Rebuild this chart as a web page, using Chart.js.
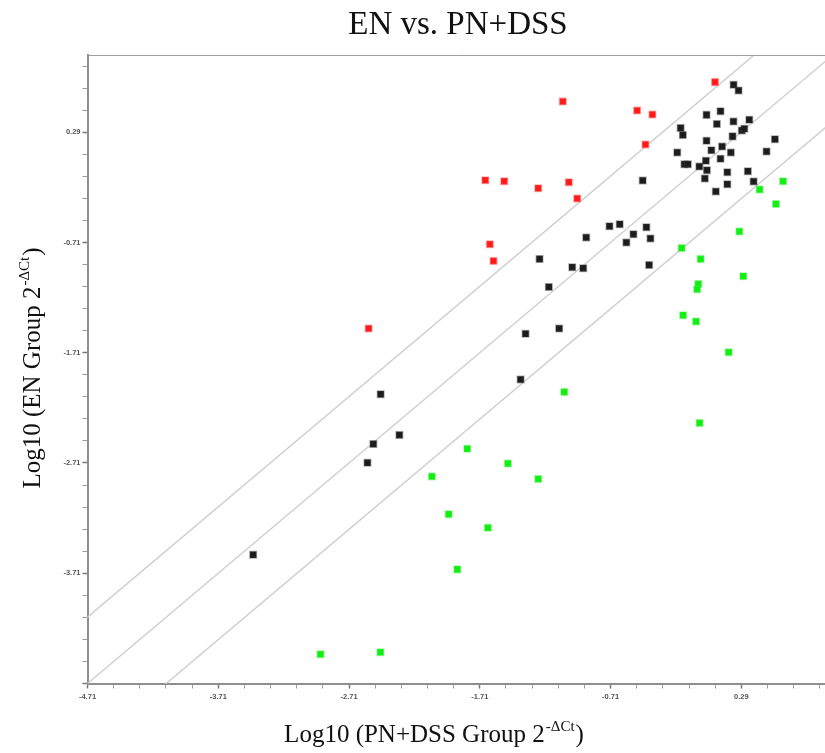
<!DOCTYPE html>
<html>
<head>
<meta charset="utf-8">
<script src="https://cdn.jsdelivr.net/npm/chart.js@4/dist/chart.umd.min.js"></script>
<style>
    html, body { margin: 0; padding: 0; background: #fff; overflow: hidden; }
    #wrap { width: 825px; height: 753px; }
    canvas { display: block; }
</style>
</head>
<body>
<div id="wrap"><canvas id="myChart" width="825" height="753"></canvas></div>
<script>
// axis ranges and ticks (log10 of 2^-dCt)
const xMin = -4.71;
const xMax = 0.93;
const yMin = -4.71;
const yMax = 0.99;
const tickStep = 0.2;
const xTickLabels = ["-4.71", "-3.71", "-2.71", "-1.71", "-0.71", "0.29"];
const yTickLabels = ["-3.71", "-2.71", "-1.71", "-0.71", "0.29"];

// fold-change boundaries: log10(4) above / below the diagonal
const foldOffsets = [0.602, 0, -0.602];

// up-regulated in EN (red)
const upX = [-1.075, -0.507, -0.39, -0.443, -1.668, -1.523, -1.263, -1.029, -0.965, -1.633, -1.605, 0.089, -2.56];
const upY = [0.569, 0.487, 0.451, 0.178, -0.146, -0.155, -0.218, -0.164, -0.312, -0.726, -0.878, 0.744, -1.491];

// unchanged (black)
const sameX = [
    -3.443, -2.468, -2.325, -2.524, -2.569, -1.398, -1.36, -1.103, -1.182, -1.253, -1.003, -0.919,
    -0.896, -0.718, -0.64, -0.535, -0.589, -0.436, -0.405, -0.415, -0.464,
    0.231, 0.269, 0.024, 0.131, 0.103, 0.23, 0.351, 0.294, 0.313, 0.223, -0.174, -0.157, 0.547,
    0.024, 0.143, 0.061, 0.21, 0.483, -0.2, 0.131, 0.019, -0.145, -0.119, -0.031, 0.027, 0.183,
    0.34, 0.011, 0.183, 0.384, 0.095,
];
const sameY = [
    -3.542, -2.087, -2.457, -2.539, -2.707, -1.954, -1.537, -1.491, -1.114, -0.86, -0.935, -0.944,
    -0.666, -0.563, -0.545, -0.636, -0.711, -0.572, -0.675, -0.914, -0.148,
    0.721, 0.669, 0.447, 0.479, 0.365, 0.387, 0.402, 0.306, 0.322, 0.252, 0.328, 0.265, 0.226,
    0.213, 0.161, 0.127, 0.106, 0.115, 0.106, 0.05, 0.031, 0.0, 0.0, -0.021, -0.055, -0.073,
    -0.064, -0.13, -0.182, -0.157, -0.248,
];

// down-regulated in EN (green)
const downX = [
    0.609, 0.43, 0.555, 0.275, -0.166, -0.021, 0.305, -0.039, -0.048, -0.155, -0.056, 0.193,
    -0.029, -1.064, -1.806, -2.076, -1.948, -1.882, -2.928, -2.47, -1.495, -1.263, -1.648,
];
const downY = [
    -0.155, -0.23, -0.361, -0.611, -0.76, -0.86, -1.017, -1.087, -1.135, -1.371, -1.428, -1.706,
    -2.348, -2.067, -2.58, -2.832, -3.174, -3.675, -4.444, -4.426, -2.714, -2.856, -3.297,
];

const serif = "'Liberation Serif', 'Times New Roman', serif";

function toPoints(xs, ys) {
    return xs.map((x, i) => ({ x: x, y: ys[i] }));
}

function isMajor(v) {
    let d = v - xMin;
    return Math.abs(d - Math.round(d)) < 1e-6;
}

function buildTicks(scale) {
    let ticks = [];
    for (let k = 0; ; k++) {
        let v = Math.round((xMin + k * tickStep) * 100) / 100;
        if (v > scale.max + 1e-9) {
            break;
        }
        ticks.push({ value: v });
    }
    scale.ticks = ticks;
}

function labelFor(list) {
    return (value) => {
        let found = list.find((l) => Math.abs(parseFloat(l) - value) < 1e-6);
        return found || "";
    };
}

// draws "main" + superscript + "tail" centred on (0, 0) of the current transform
function drawSupText(ctx, main, sup, tail) {
    let big = "25px " + serif;
    let small = "15px " + serif;
    ctx.font = big;
    let w1 = ctx.measureText(main).width;
    let w3 = ctx.measureText(tail).width;
    ctx.font = small;
    let w2 = ctx.measureText(sup).width;
    let x = -(w1 + w2 + w3) / 2;
    ctx.textAlign = "left";
    ctx.textBaseline = "alphabetic";
    ctx.font = big;
    ctx.fillText(main, x, 0);
    ctx.font = small;
    ctx.fillText(sup, x + w1 + 1, -11);
    ctx.font = big;
    ctx.fillText(tail, x + w1 + w2 + 2, 0);
}

const textPlugin = {
    id: "textPlugin",
    afterDraw(chart) {
        let ctx = chart.ctx;
        let area = chart.chartArea;
        ctx.save();

        // top frame line
        ctx.strokeStyle = "#a0a0a0";
        ctx.lineWidth = 1;
        ctx.beginPath();
        ctx.moveTo(area.left, area.top + 0.5);
        ctx.lineTo(area.right, area.top + 0.5);
        ctx.stroke();

        ctx.fillStyle = "#111";
        ctx.font = "33px " + serif;
        ctx.textAlign = "center";
        ctx.textBaseline = "alphabetic";
        ctx.fillText("EN vs. PN+DSS", 458, 34);

        ctx.save();
        ctx.translate(433, 742);
        drawSupText(ctx, "Log10 (PN+DSS Group 2", "-ΔCt", ")");
        ctx.restore();

        ctx.save();
        ctx.translate(40, 369);
        ctx.rotate(-Math.PI / 2);
        drawSupText(ctx, "Log10 (EN Group 2", "-ΔCt", ")");
        ctx.restore();

        ctx.restore();
    },
};

function pointSet(label, xs, ys, fill, edge) {
    return {
        label: label,
        data: toPoints(xs, ys),
        pointStyle: "rect",
        pointRadius: 4.6,
        pointHoverRadius: 4.6,
        backgroundColor: fill,
        borderColor: edge,
        borderWidth: 1.5,
        order: 0,
    };
}

let lineSets = foldOffsets.map((off) => ({
    label: "fold " + off,
    data: [
        { x: xMin - 1, y: xMin - 1 + off },
        { x: xMax + 1, y: xMax + 1 + off },
    ],
    showLine: true,
    pointRadius: 0,
    borderColor: "#d0d0d0",
    borderWidth: 1.5,
    order: 1,
}));

let tickFont = { family: "'Liberation Sans', Arial, sans-serif", size: 7.5, weight: "bold" };

let gridOpts = {
    drawOnChartArea: false,
    drawTicks: true,
    tickLength: 5,
    tickColor: (c) => (c.tick && isMajor(c.tick.value) ? "#777" : "#9a9a9a"),
    tickWidth: (c) => (c.tick && isMajor(c.tick.value) ? 1.5 : 1),
};

const ctx = document.getElementById("myChart");
const chart = new Chart(ctx, {
    type: "scatter",
    data: {
        datasets: [
            pointSet("up", upX, upY, "#ff1a1a", "rgba(255,90,90,0.45)"),
            pointSet("same", sameX, sameY, "#1c1c1c", "rgba(60,60,60,0.4)"),
            pointSet("down", downX, downY, "#12ee12", "rgba(60,240,60,0.4)"),
        ].concat(lineSets),
    },
    options: {
        responsive: false,
        animation: false,
        layout: {
            autoPadding: false,
            padding: { top: 55, left: 0, right: 0, bottom: 0 },
        },
        plugins: {
            legend: { display: false },
            title: { display: false },
            tooltip: { enabled: false },
        },
        scales: {
            x: {
                type: "linear",
                min: xMin,
                max: xMax,
                afterBuildTicks: buildTicks,
                afterFit: (scale) => {
                    scale.height = 69.5;
                    scale.paddingLeft = 0;
                    scale.paddingRight = 0;
                },
                border: { color: "#8e8e8e", width: 2 },
                grid: gridOpts,
                ticks: {
                    autoSkip: false,
                    maxRotation: 0,
                    padding: 4,
                    color: "#555",
                    font: tickFont,
                    callback: labelFor(xTickLabels),
                },
            },
            y: {
                type: "linear",
                min: yMin,
                max: yMax,
                afterBuildTicks: buildTicks,
                afterFit: (scale) => {
                    scale.width = 87.5;
                    scale.paddingTop = 0;
                    scale.paddingBottom = 0;
                },
                border: { color: "#8e8e8e", width: 2 },
                grid: gridOpts,
                ticks: {
                    autoSkip: false,
                    padding: 2,
                    color: "#555",
                    font: tickFont,
                    callback: labelFor(yTickLabels),
                },
            },
        },
    },
    plugins: [textPlugin],
});
</script>
</body>
</html>
